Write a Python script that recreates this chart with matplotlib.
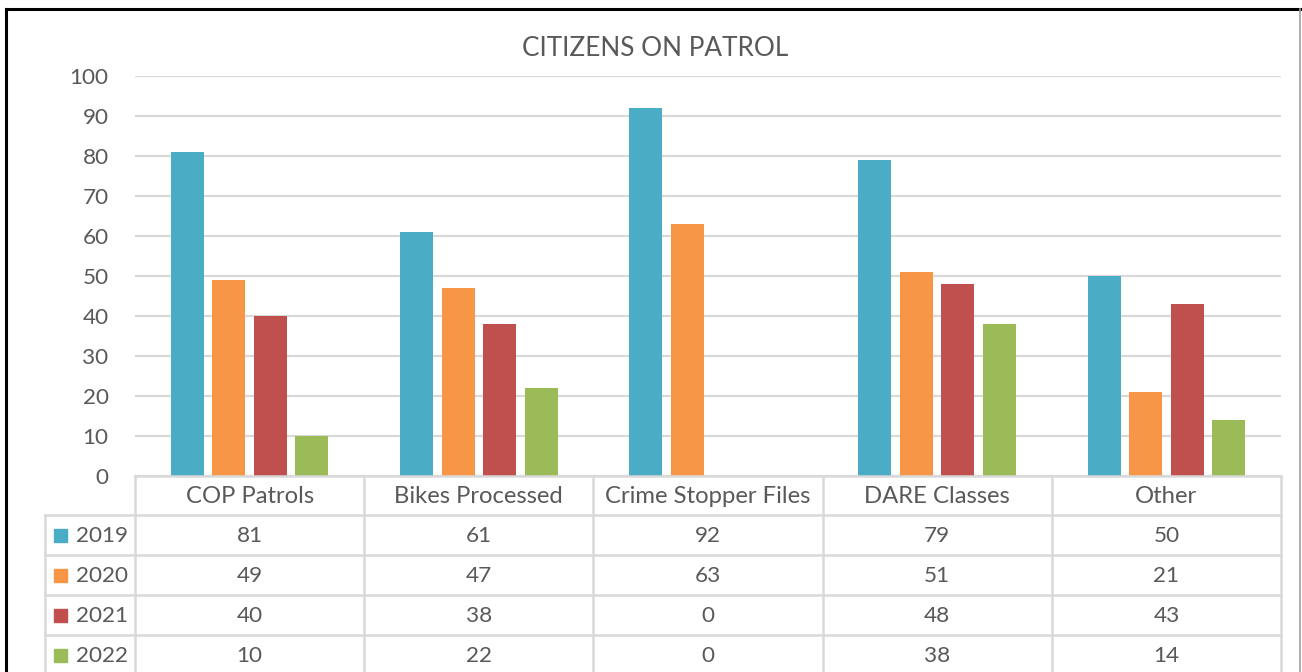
import matplotlib
matplotlib.use("Agg")
import matplotlib.pyplot as plt
from matplotlib.lines import Line2D
from matplotlib.patches import Rectangle

categories = ["COP Patrols", "Bikes Processed", "Crime Stopper Files", "DARE Classes", "Other"]
years = ["2019", "2020", "2021", "2022"]
values_2019 = [81, 61, 92, 79, 50]
values_2020 = [49, 47, 63, 51, 21]
values_2021 = [40, 38, 0, 48, 43]
values_2022 = [10, 22, 0, 38, 14]
series = [values_2019, values_2020, values_2021, values_2022]
colors = ["#4BACC6", "#F79646", "#C0504D", "#9BBB59"]
y_ticks = list(range(0, 101, 10))
title = "CITIZENS ON PATROL"

plt.rcParams["font.family"] = ["Lato", "DejaVu Sans"]
TEXT = "#595959"
GRID = "#D9D9D9"
FS = 16.2

W, H = 1302, 672
fig = plt.figure(figsize=(W / 100, H / 100), dpi=100)
fig.patch.set_facecolor("white")


def fx(px):
    return px / W


def fy(py):
    return 1 - py / H


# plot area (pixel bounds)
L, R, T, B = 135, 1281, 76, 476
ax = fig.add_axes([fx(L), fy(B), fx(R) - fx(L), fy(T) - fy(B)])
ax.set_xlim(-0.5, len(categories) - 0.5)
ax.set_ylim(0, 100)
ax.set_yticks(y_ticks)
ax.set_yticklabels([str(t) for t in y_ticks])
ax.tick_params(axis="y", length=0, pad=19, labelsize=FS, labelcolor=TEXT)
ax.set_xticks([])
for s in ax.spines.values():
    s.set_visible(False)
ax.grid(axis="y", color=GRID, linewidth=1.6)
ax.set_axisbelow(True)

slot = 0.181
bw = 0.144
for j, (vals, c) in enumerate(zip(series, colors)):
    xs = [i + (j - 1.5) * slot for i in range(len(categories))]
    ax.bar(xs, vals, width=bw, color=c, zorder=3)

fig.text(fx(655), fy(48), title, ha="center", va="center",
         fontsize=18.8, color=TEXT)

# data table
col_w = (R - L) / len(categories)
col_x = [L + k * col_w for k in range(len(categories) + 1)]
row_y = [B, 515, 555, 595, 635, 675]
legend_left = 45
lw = 1.8


def hline(x0, x1, y):
    fig.add_artist(Line2D([fx(x0), fx(x1)], [fy(y), fy(y)], color=GRID, linewidth=lw))


def vline(x, y0, y1):
    fig.add_artist(Line2D([fx(x), fx(x)], [fy(y0), fy(y1)], color=GRID, linewidth=lw))


hline(L, R, row_y[0])
for y in row_y[1:]:
    hline(legend_left, R, y)
for x in col_x:
    vline(x, row_y[0], row_y[-1])
vline(legend_left, row_y[1], row_y[-1])

for i, cat in enumerate(categories):
    cx = (col_x[i] + col_x[i + 1]) / 2
    fig.text(fx(cx), fy((row_y[0] + row_y[1]) / 2 + 1), cat, ha="center", va="center",
             fontsize=17.2, color=TEXT)
    for j, vals in enumerate(series):
        cy = (row_y[j + 1] + row_y[j + 2]) / 2
        fig.text(fx(cx), fy(cy + 1), str(vals[i]), ha="center", va="center",
                 fontsize=FS, color=TEXT)

for j, (yr, c) in enumerate(zip(years, colors)):
    cy = (row_y[j + 1] + row_y[j + 2]) / 2
    sq = 13
    fig.add_artist(Rectangle((fx(54), fy(cy + sq / 2)), fx(sq), sq / H,
                             color=c, transform=fig.transFigure))
    fig.text(fx(76), fy(cy + 1), yr, ha="left", va="center", fontsize=FS, color=TEXT)

# chart frame
fig.add_artist(Line2D([fx(6), fx(W)], [fy(8.5), fy(8.5)], color="black", linewidth=2.2))
fig.add_artist(Line2D([fx(6), fx(6)], [fy(8.5), fy(H)], color="black", linewidth=2.2))
fig.add_artist(Line2D([fx(1299.5), fx(1299.5)], [fy(8.5), fy(H)], color="#A0A0A0", linewidth=1.2))

fig.savefig("out.png", dpi=100)
